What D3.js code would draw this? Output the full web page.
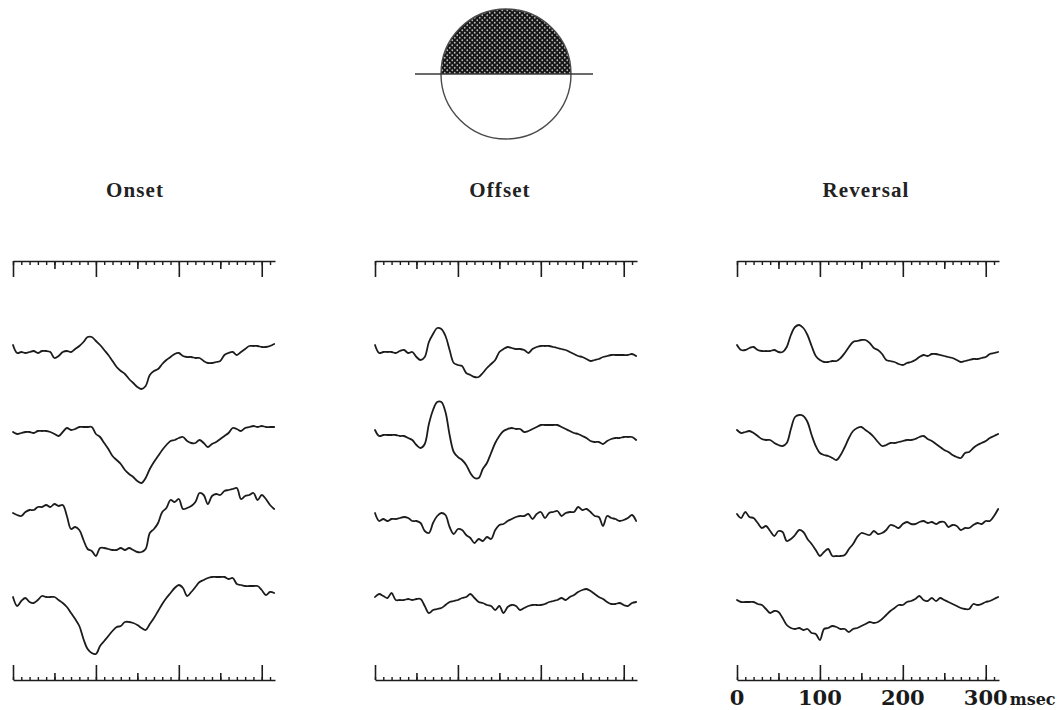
<!DOCTYPE html>
<html>
<head>
<meta charset="utf-8">
<script src="https://cdn.jsdelivr.net/npm/d3@7"></script>
<style>
  html, body { margin: 0; padding: 0; background: #fff; }
  svg { display: block; }
</style>
</head>
<body>
<svg id="chart" width="1058" height="710"></svg>
<script>
// Stimulus conditions (one column each)
const conditions = ["Onset", "Offset", "Reversal"];

// Sampling grid of the averaged responses, in ms after the stimulus change
const sampleMs = d3.range(0, 320, 5);

// Averaged responses, four recordings per condition (arbitrary amplitude units, positive = up)
const onsetTraces = [
  [5,-3,-2,-3,-2,-1,-3,-1,-1,-2, -8,-6,-2,-1,-2,1,4,8,13,13, 9,5,0,-5,-11,-17,-21,-24,-29,-33,
   -37,-39,-36,-25,-21,-19,-14,-10,-7,-4, -3,-6,-7,-7,-8,-8,-11,-13,-13,-12, -11,-5,-3,-2,-5,-2,1,4,4,4, 3,3,4,6],
  [0,-2,-1,0,0,-1,1,1,1,0, -2,-4,0,4,2,3,5,5,5,5, -2,-5,-11,-17,-24,-28,-32,-38,-42,-45,
   -49,-51,-46,-37,-30,-24,-18,-13,-9,-8, -6,-5,-9,-11,-11,-8,-11,-15,-12,-10, -7,-4,-1,4,3,1,4,5,6,5, 6,5,5,5],
  [2,0,-1,3,5,5,8,8,10,8, 11,9,10,-1,-14,-12,-15,-25,-34,-36, -41,-33,-33,-34,-35,-35,-33,-35,-33,-35,
   -37,-37,-34,-18,-14,-8,3,7,15,13, 16,6,7,9,13,22,20,11,19,21, 20,24,25,26,27,16,19,20,22,15, 20,16,10,6],
  [3,-6,-1,2,-2,-3,0,4,3,3, 3,0,-3,-7,-13,-19,-26,-39,-49,-53, -54,-46,-41,-36,-31,-27,-26,-22,-22,-23,
   -25,-28,-30,-24,-18,-11,-4,2,7,12, 15,12,4,8,13,18,20,22,23,23, 23,23,21,22,16,15,14,14,14,14, 10,5,8,7]
];

const offsetTraces = [
  [5,-3,-2,-2,-2,-3,-1,0,-3,-2, -7,-10,-7,8,16,22,21,14,0,-13, -15,-16,-23,-25,-27,-27,-23,-18,-14,-10,
   -2,1,3,2,1,1,0,-3,1,3, 4,4,4,3,2,1,0,-2,-4,-6, -7,-9,-11,-10,-9,-7,-6,-5,-5,-5, -5,-5,-4,-6],
  [2,-4,-3,-3,-3,-3,-4,-4,-6,-8, -13,-16,-12,8,22,30,30,20,-3,-20, -25,-28,-33,-41,-46,-46,-37,-31,-21,-11,
   -4,1,3,4,3,3,0,1,3,5, 7,7,7,7,7,5,3,1,-1,-2, -4,-6,-9,-10,-10,-12,-9,-7,-6,-6, -5,-5,-5,-8],
  [2,-6,-4,-6,-4,-4,-3,-2,-3,-6, -6,-8,-16,-18,-8,-1,2,0,-12,-19, -14,-15,-20,-23,-28,-24,-26,-22,-24,-15,
   -10,-9,-6,-4,-2,-1,-1,1,-4,1, 3,-3,2,3,4,-1,2,3,3,8, 5,6,3,-1,-2,-11,-1,-3,-4,-6, -5,-3,0,-6],
  [3,6,4,2,7,0,0,0,1,0, 1,1,-6,-13,-10,-9,-8,-5,-2,-1, 0,2,3,6,2,-2,-3,-5,-6,-10,
   -6,-13,-7,-5,-6,-10,-8,-6,-5,-5, -5,-4,-2,-1,0,2,0,3,5,8, 10,11,9,6,3,1,-2,-4,-4,-3, -5,-6,-3,-2]
];

const reversalTraces = [
  [5,0,0,2,3,0,-1,-1,-1,0, -2,-2,3,15,23,25,22,15,4,-6, -10,-12,-12,-11,-11,-8,-3,3,8,9,
   10,10,7,2,0,-4,-10,-11,-12,-14, -15,-13,-12,-10,-7,-5,-6,-4,-4,-5, -6,-7,-8,-10,-12,-11,-10,-9,-9,-8, -7,-4,-3,-2],
  [2,-1,0,1,-1,-4,-7,-8,-8,-11, -13,-14,-11,3,15,17,16,10,-3,-14, -21,-23,-24,-26,-28,-23,-15,-6,1,4,
   5,2,-1,-5,-10,-14,-13,-11,-11,-10, -9,-8,-8,-7,-5,-4,-7,-9,-12,-15, -18,-20,-23,-25,-26,-21,-20,-16,-13,-11, -9,-6,-4,-2],
  [1,-3,3,-2,-3,-8,-13,-11,-16,-21, -16,-17,-26,-24,-20,-15,-17,-24,-29,-35, -41,-37,-34,-41,-41,-41,-40,-34,-29,-22,
   -18,-19,-20,-16,-19,-18,-15,-10,-11,-13, -9,-7,-9,-9,-7,-6,-8,-7,-9,-7, -7,-12,-10,-11,-15,-13,-13,-10,-8,-9, -6,-6,-1,6],
  [0,-2,-2,-2,-2,-4,-5,-9,-13,-11, -12,-18,-25,-28,-29,-28,-30,-29,-33,-34, -40,-29,-28,-26,-27,-29,-29,-32,-29,-28,
   -26,-24,-22,-23,-22,-19,-15,-11,-8,-5, -5,-2,-1,1,4,0,-1,2,-1,2, 0,-2,-4,-6,-8,-9,-9,-4,-5,-4, -2,-1,1,3]
];

// Time-scale ticks (ms) and labels
const minorTickMs = d3.range(0, 311, 10);
const halfTickMs = [50, 150, 250];
const majorTickMs = [0, 100, 200, 300];
const majorTickLabels = ["0", "100", "200", "300"];
const timeUnit = "msec";

// ---------------------------------------------------------------
const svg = d3.select("#chart");
const columnTraces = [onsetTraces, offsetTraces, reversalTraces];
const columnLeft = [13, 375, 737];
const titleX = [135, 500, 866];
const columnWidth = 262;
const timeDomain = [0, 316];
const rowBaseline = [350, 432, 515, 600];
const ampHalfRange = 60;
const topRulerY = 261;
const bottomRulerY = 680;
const ink = "#1c1c1c";

// Stimulus icon: half-field pattern on a circle with the horizontal meridian
const defs = svg.append("defs");
const pat = defs.append("pattern")
  .attr("id", "halftone")
  .attr("patternUnits", "userSpaceOnUse")
  .attr("width", 5).attr("height", 5);
pat.append("rect").attr("width", 5).attr("height", 5).attr("fill", "#161616");
pat.append("circle").attr("cx", 1.25).attr("cy", 1.25).attr("r", 0.9).attr("fill", "#b8b8b8");
pat.append("circle").attr("cx", 3.75).attr("cy", 3.75).attr("r", 0.9).attr("fill", "#b8b8b8");

const icon = svg.append("g").attr("transform", "translate(506,74)");
const iconR = 65;
icon.append("path")
  .attr("d", d3.arc().innerRadius(0).outerRadius(iconR)
    .startAngle(-Math.PI / 2).endAngle(Math.PI / 2)())
  .attr("fill", "url(#halftone)");
icon.append("circle")
  .attr("r", iconR)
  .attr("fill", "none")
  .attr("stroke", "#4a4a4a")
  .attr("stroke-width", 1.4);
icon.append("line")
  .attr("x1", -91).attr("x2", 87)
  .attr("y1", 0).attr("y2", 0)
  .attr("stroke", "#3a3a3a")
  .attr("stroke-width", 1.4);

// Columns
columnTraces.forEach((traces, ci) => {
  const x = d3.scaleLinear().domain(timeDomain)
    .range([columnLeft[ci], columnLeft[ci] + columnWidth]);
  const g = svg.append("g");

  // Condition title
  g.append("text")
    .attr("x", titleX[ci])
    .attr("y", 197)
    .attr("text-anchor", "middle")
    .attr("font-family", "'Liberation Serif', 'Times New Roman', serif")
    .attr("font-weight", "bold")
    .attr("font-size", 21)
    .attr("letter-spacing", 1.1)
    .attr("fill", "#222")
    .text(conditions[ci]);

  // Time rulers: ticks hang down from the top ruler and stand up from the bottom one
  const rulers = [
    { y: topRulerY, make: d3.axisBottom, sizes: [4, 8, 16] },
    { y: bottomRulerY, make: d3.axisTop, sizes: [3, 7, 15] }
  ];
  rulers.forEach(r => {
    const sets = [minorTickMs, halfTickMs, majorTickMs];
    sets.forEach((vals, si) => {
      const ax = r.make(x).tickValues(vals).tickSize(r.sizes[si])
        .tickSizeOuter(0).tickFormat("");
      const ag = g.append("g").attr("transform", `translate(0,${r.y})`).call(ax);
      ag.select(".domain")
        .attr("stroke", ink)
        .attr("stroke-width", si === 0 ? 1.7 : 0);
      ag.selectAll(".tick line")
        .attr("stroke", ink)
        .attr("stroke-width", si === 0 ? 1.4 : 1.6);
    });
  });

  // Response traces
  traces.forEach((vals, ri) => {
    const y = d3.scaleLinear()
      .domain([-ampHalfRange, ampHalfRange])
      .range([rowBaseline[ri] + ampHalfRange, rowBaseline[ri] - ampHalfRange]);
    const line = d3.line()
      .x((d, i) => x(sampleMs[i]))
      .y(d => y(d))
      .curve(d3.curveCatmullRom.alpha(0.5));
    g.append("path")
      .datum(vals)
      .attr("d", line)
      .attr("fill", "none")
      .attr("stroke", ink)
      .attr("stroke-width", 1.8)
      .attr("stroke-linejoin", "round")
      .attr("stroke-linecap", "round");
  });

  // Time labels under the last column
  if (ci === columnTraces.length - 1) {
    g.selectAll("text.tl")
      .data(majorTickMs)
      .join("text")
      .attr("class", "tl")
      .attr("x", d => x(d))
      .attr("y", 705)
      .attr("text-anchor", "middle")
      .attr("font-family", "'DejaVu Serif', serif")
      .attr("font-weight", "bold")
      .attr("font-size", 21)
      .attr("fill", "#1a1a1a")
      .text((d, i) => majorTickLabels[i]);
    g.append("text")
      .attr("x", x(300) + 24)
      .attr("y", 705)
      .attr("font-family", "'DejaVu Serif', serif")
      .attr("font-weight", "bold")
      .attr("font-size", 16)
      .attr("fill", "#1a1a1a")
      .text(timeUnit);
  }
});
</script>
</body>
</html>
